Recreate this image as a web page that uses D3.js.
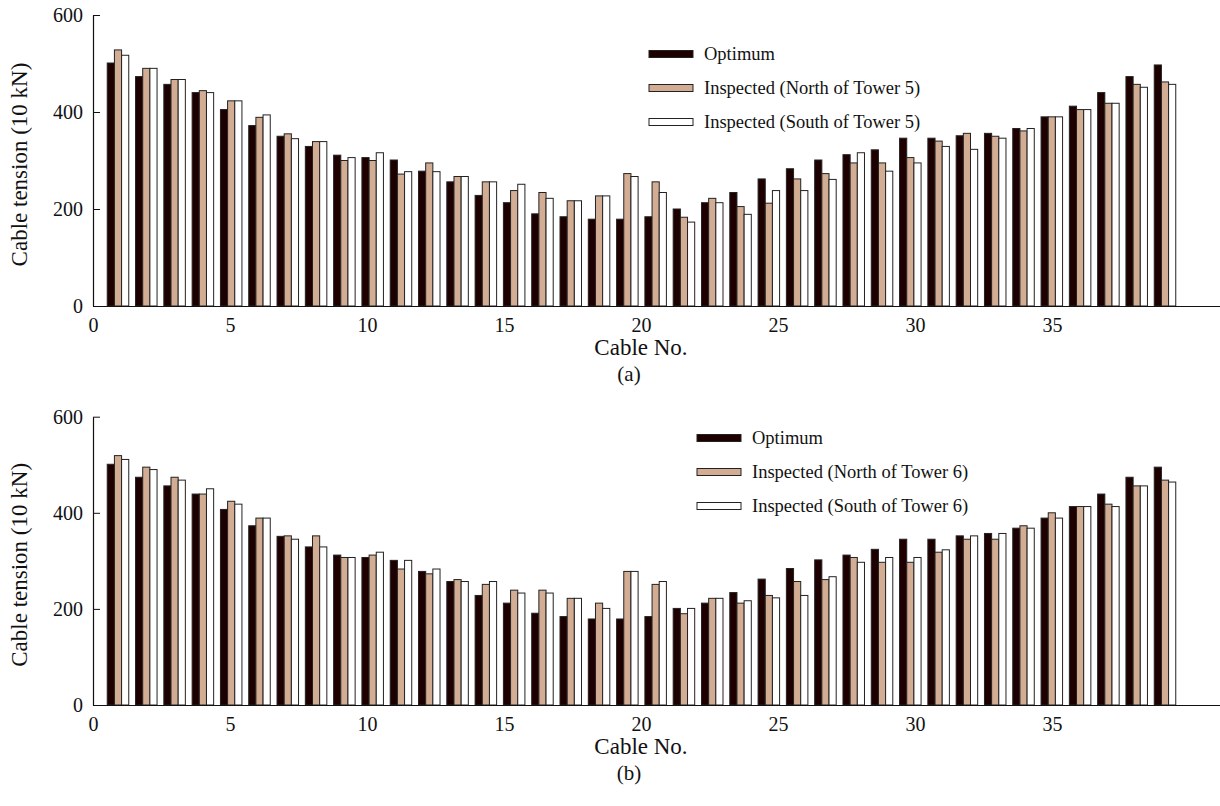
<!DOCTYPE html>
<html>
<head>
<meta charset="utf-8">
<script src="https://cdn.jsdelivr.net/npm/d3@7"></script>
<style>
  body { margin: 0; background: #fff; }
  text { font-family: "Liberation Serif", "Times New Roman", serif; fill: #111; }
</style>
</head>
<body>
<div id="chart"></div>
<script>
// Cable numbers and axis ticks
const cables = d3.range(1, 39)
const yTicks = [0, 200, 400, 600]
const xTicks = [0, 5, 10, 15, 20, 25, 30, 35]
const seriesKeys = ["optimum", "north", "south"]

// Panel (a) values, cable tension (10 kN)
const optimumA = [501, 473, 457, 440, 405, 372, 350, 329, 311, 306, 301, 278, 256, 228, 213, 190, 184, 179, 179, 184,
                  200, 213, 234, 262, 283, 301, 312, 322, 346, 346, 351, 356, 366, 390, 412, 440, 473, 497]
const northA   = [528, 490, 467, 444, 423, 389, 355, 339, 300, 300, 272, 295, 267, 256, 238, 234, 217, 227, 273, 256,
                  183, 222, 205, 212, 262, 273, 295, 295, 306, 340, 356, 350, 361, 390, 405, 418, 457, 462]
const southA   = [517, 490, 467, 440, 423, 394, 345, 339, 306, 316, 277, 277, 267, 256, 251, 222, 217, 227, 267, 234,
                  173, 213, 189, 238, 238, 261, 316, 278, 295, 329, 323, 346, 366, 390, 405, 418, 451, 457]

// Panel (b) values
const optimumB = [501, 474, 456, 439, 407, 373, 351, 329, 312, 307, 301, 278, 257, 228, 212, 191, 184, 179, 179, 184,
                  201, 212, 234, 262, 284, 302, 312, 324, 345, 345, 352, 357, 368, 389, 413, 439, 474, 495]
const northB   = [519, 495, 474, 439, 424, 389, 352, 352, 307, 312, 283, 273, 261, 251, 239, 239, 222, 212, 278, 251,
                  190, 222, 212, 228, 257, 261, 307, 297, 297, 318, 345, 345, 373, 400, 413, 418, 456, 468]
const southB   = [511, 490, 468, 450, 418, 389, 345, 329, 307, 318, 301, 283, 257, 257, 233, 233, 222, 201, 278, 257,
                  201, 222, 217, 223, 228, 267, 297, 307, 307, 323, 352, 357, 368, 389, 413, 413, 456, 464]

const legendA = ["Optimum", "Inspected (North of Tower 5)", "Inspected (South of Tower 5)"]
const legendB = ["Optimum", "Inspected (North of Tower 6)", "Inspected (South of Tower 6)"]

const colors = { optimum: "#1e0000", north: "#d3ad93", south: "#ffffff" }

const width = 1220, height = 806

const svg = d3.select("#chart").append("svg")
    .attr("width", width)
    .attr("height", height)

// x positions: tick labels and bar groups use slightly different spacing in the original
const xTick = d3.scaleLinear().domain([0, 41.13]).range([93, 1220])
const xBand = d3.scaleBand().domain(cables).range([103.85, 1179.15])
    .paddingInner(0.24).paddingOuter(0.12)
const xSub = d3.scaleBand().domain(seriesKeys).range([0, xBand.bandwidth()])

function drawPanel(top, bottom, opt, north, south, legendLabels, legendX, legendY, tag) {
  const g = svg.append("g")
  const y = d3.scaleLinear().domain([0, 600]).range([bottom, top])

  const rows = cables.map((c, i) => ({ cable: c, optimum: opt[i], north: north[i], south: south[i] }))

  const groups = g.selectAll("g.cable")
    .data(rows)
    .join("g")
    .attr("class", "cable")
    .attr("transform", d => "translate(" + xBand(d.cable) + ",0)")

  groups.selectAll("rect")
    .data(d => seriesKeys.map(k => ({ key: k, value: d[k] })))
    .join("rect")
    .attr("x", d => xSub(d.key))
    .attr("width", xSub.bandwidth())
    .attr("y", d => y(d.value))
    .attr("height", d => y(0) - y(d.value))
    .attr("fill", d => colors[d.key])
    .attr("stroke", "#222")
    .attr("stroke-width", 1)

  // y axis, ticks pointing inward
  const yAxis = g.append("g")
    .attr("transform", "translate(93,0)")
    .call(d3.axisLeft(y).tickValues(yTicks).tickSizeInner(-7).tickSizeOuter(0).tickPadding(10))
  yAxis.selectAll("text").style("font-size", "20px").style("font-family", "Liberation Serif")

  // x axis line and labels
  const xAxis = g.append("g")
    .attr("transform", "translate(0," + bottom + ")")
    .call(d3.axisBottom(xTick).tickValues(xTicks).tickSize(0).tickPadding(12))
  xAxis.selectAll("text").style("font-size", "20px").style("font-family", "Liberation Serif")
  g.selectAll(".domain").attr("stroke", "#111").attr("stroke-width", 1.2)
  g.selectAll(".tick line").attr("stroke", "#111")

  g.append("text")
    .attr("transform", "translate(27," + ((top + bottom) / 2 + 4) + ") rotate(-90)")
    .attr("text-anchor", "middle")
    .style("font-size", "23px")
    .text("Cable tension (10 kN)")

  g.append("text")
    .attr("x", 641).attr("y", bottom + 49)
    .attr("text-anchor", "middle")
    .style("font-size", "23px")
    .text("Cable No.")

  g.append("text")
    .attr("x", 629).attr("y", bottom + 75)
    .attr("text-anchor", "middle")
    .style("font-size", "21px")
    .text(tag)

  // legend
  const leg = g.append("g").attr("transform", "translate(" + legendX + "," + legendY + ")")
  const items = leg.selectAll("g")
    .data(seriesKeys)
    .join("g")
    .attr("transform", (d, i) => "translate(0," + i * 34 + ")")
  items.append("rect")
    .attr("x", 0).attr("y", -3.5)
    .attr("width", 44).attr("height", 7)
    .attr("fill", d => colors[d])
    .attr("stroke", "#222")
  items.append("text")
    .attr("x", 55).attr("dy", "0.35em")
    .style("font-size", "18.5px")
    .text((d, i) => legendLabels[i])
}

drawPanel(15, 306, optimumA, northA, southA, legendA, 649, 54, "(a)")
drawPanel(416.7, 705, optimumB, northB, southB, legendB, 697, 438, "(b)")
</script>
</body>
</html>
